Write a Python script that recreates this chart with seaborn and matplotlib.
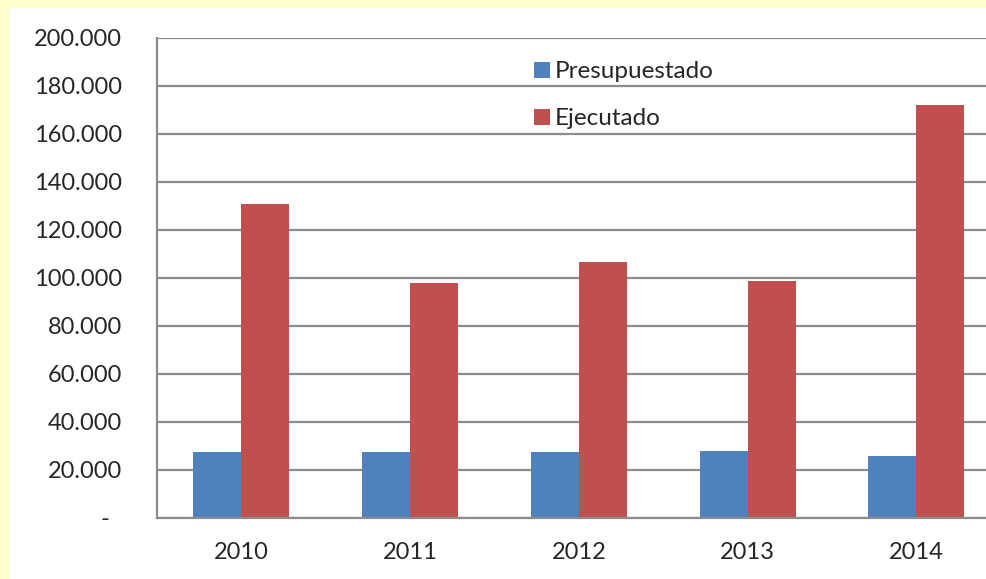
import pandas as pd
import numpy as np
import matplotlib
matplotlib.use("Agg")
import matplotlib.pyplot as plt
import seaborn as sns
from matplotlib.patches import Rectangle
from matplotlib.ticker import FuncFormatter, FixedLocator

# values
years = ["2010", "2011", "2012", "2013", "2014"]
presupuestado = [27500, 27500, 27400, 27900, 25700]
ejecutado = [130700, 97800, 106700, 98700, 172100]

df = pd.DataFrame({
    "Año": years * 2,
    "Valor": presupuestado + ejecutado,
    "Serie": ["Presupuestado"] * len(years) + ["Ejecutado"] * len(years),
})

sns.set_style("white")
plt.rcParams["font.family"] = ["Lato", "DejaVu Sans"]

fig = plt.figure(figsize=(9.87, 5.79), dpi=100)
fig.patch.set_facecolor("white")
# yellow frame only on the left and top edges
yellow = "#FFFFCC"
fig.patches.append(Rectangle((0, 0), 9 / 987, 1, transform=fig.transFigure,
                             facecolor=yellow, edgecolor="none", zorder=-5))
fig.patches.append(Rectangle((0, 1 - 8 / 579), 1, 8 / 579, transform=fig.transFigure,
                             facecolor=yellow, edgecolor="none", zorder=-5))

# plot area is wider than the picture: the right side is cut off like the original
ax = fig.add_axes([157 / 987, 1 - 518 / 579, 843.75 / 987, 480 / 579])
ax.set_zorder(2)
ax.set_facecolor("white")

sns.barplot(data=df, x="Año", y="Valor", hue="Serie", ax=ax,
            palette={"Presupuestado": "#4F81BD", "Ejecutado": "#C0504D"},
            width=0.57, gap=0, saturation=1, edgecolor="none", linewidth=0)

ax.set_ylim(0, 200000)
ax.set_xlim(-0.5, 4.5)
ax.set_yticks(np.arange(0, 200001, 20000))
ax.yaxis.set_major_formatter(FuncFormatter(
    lambda v, p: "-  " if v == 0 else f"{v:,.0f}".replace(",", ".")))
ax.yaxis.grid(True, color="#8C8C8C", linewidth=1.6)
ax.set_axisbelow(True)

ax.xaxis.set_minor_locator(FixedLocator(np.arange(-0.5, 5, 1)))
ax.tick_params(axis="x", which="major", length=0, pad=17, labelsize=17)
ax.tick_params(axis="x", which="minor", length=8, width=1.6, color="#8C8C8C", direction="out")
ax.tick_params(axis="y", length=8, width=1.6, color="#8C8C8C", direction="out", pad=17, labelsize=17)

for s in ["top", "right"]:
    ax.spines[s].set_visible(False)
for s in ["left", "bottom"]:
    ax.spines[s].set_color("#8C8C8C")
    ax.spines[s].set_linewidth(1.6)

ax.set_xlabel("")
ax.set_ylabel("")

ax.legend(title=None, frameon=False, fontsize=17.5, loc="upper left",
          bbox_to_anchor=(0.433, 0.977), borderpad=0, labelspacing=1.07,
          handlelength=0.62, handleheight=0.62, handletextpad=0.2)

plt.savefig("out.png", dpi=100, facecolor=fig.get_facecolor())
